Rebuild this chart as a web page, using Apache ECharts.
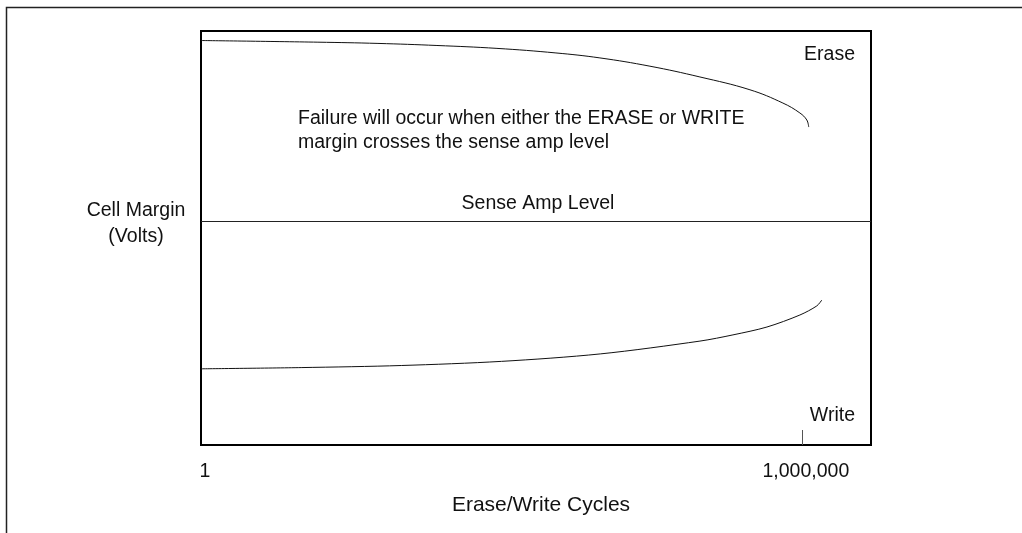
<!DOCTYPE html>
<html>
<head>
<meta charset="utf-8">
<script src="https://cdn.jsdelivr.net/npm/echarts@6/dist/echarts.min.js"></script>
<style>
  html, body { margin: 0; padding: 0; background: #ffffff; }
  #chart { width: 1022px; height: 533px; }
</style>
</head>
<body>
<div id="chart"></div>
<script>
// erase margin curve (cycles, relative margin)
const eraseCycles = [1, 14.7, 58.5, 227, 902, 3500, 9620, 30400, 95900, 303000, 646000, 955000, 1120000, 1170000];
const eraseMargin = [97.7, 97.3, 97.0, 96.5, 95.8, 94.7, 93.5, 91.5, 88.9, 85.8, 82.6, 80.2, 78.5, 76.8];

// write margin curve
const writeCycles = [1, 10, 100, 1000, 9700, 96000, 205000, 448000, 955000, 1410000, 1580000];
const writeMargin = [18.4, 18.7, 19.2, 20.2, 22.0, 25.1, 26.6, 28.5, 31.4, 33.6, 35.0];

const senseAmpLevel = 54;
const xLabelValues = [1, 1000000];
const xTickValues = [1000000];

const FONT = "'Liberation Sans', Arial, sans-serif";
const INK = "#111111";
const TEXT_SIZE = 19.5;

const chart = echarts.init(document.getElementById("chart"), null, { renderer: "canvas" });

const toPairs = (xs, ys) => xs.map((x, i) => [x, ys[i]]);

chart.setOption({
  animation: false,
  backgroundColor: "#ffffff",
  textStyle: { fontFamily: FONT },
  grid: {
    left: 201,
    right: 151,
    top: 31,
    bottom: 88,
    show: true,
    borderColor: "#000000",
    borderWidth: 2,
    containLabel: false,
  },
  xAxis: {
    type: "log",
    logBase: 10,
    min: 1,
    max: 4900000,
    name: "Erase/Write Cycles",
    nameLocation: "middle",
    nameGap: 50,
    nameTextStyle: { color: INK, fontSize: 21, fontFamily: FONT, padding: [0, 0, 0, 10] },
    axisLine: { show: false },
    axisTick: {
      show: true,
      inside: true,
      length: 15,
      customValues: xTickValues,
      lineStyle: { color: "#555555", width: 1 },
    },
    axisLabel: {
      show: true,
      customValues: xLabelValues,
      margin: 17,
      padding: [0, 0, 0, 8],
      color: INK,
      fontSize: TEXT_SIZE,
      fontFamily: FONT,
      formatter: (v) => Math.round(v).toLocaleString("en-US"),
    },
    splitLine: { show: false },
    minorTick: { show: false },
  },
  yAxis: {
    type: "value",
    min: 0,
    max: 100,
    axisLine: { show: false },
    axisTick: { show: false },
    axisLabel: { show: false },
    splitLine: { show: false },
  },
  series: [
    {
      name: "Erase",
      type: "line",
      data: toPairs(eraseCycles, eraseMargin),
      symbol: "none",
      smooth: 0.4,
      lineStyle: { color: INK, width: 1 },
      markLine: {
        silent: true,
        symbol: "none",
        data: [{ yAxis: senseAmpLevel }],
        lineStyle: { color: "#222222", width: 1.2, type: "solid" },
        label: {
          show: true,
          position: "middle",
          distance: 8,
          formatter: "Sense Amp Level",
          color: INK,
          fontSize: TEXT_SIZE,
          fontFamily: FONT,
          padding: [0, 0, 0, 4],
        },
      },
    },
    {
      name: "Write",
      type: "line",
      data: toPairs(writeCycles, writeMargin),
      symbol: "none",
      smooth: 0.3,
      lineStyle: { color: INK, width: 1 },
    },
  ],
  graphic: [
    {
      type: "rect",
      silent: true,
      shape: { x: 6.5, y: 7.5, width: 1200, height: 700 },
      style: { fill: null, stroke: "#222222", lineWidth: 1.5 },
      z: -1,
    },
    {
      type: "text",
      left: 298,
      top: 107,
      style: {
        text: "Failure will occur when either the ERASE or WRITE\nmargin crosses the sense amp level",
        font: TEXT_SIZE + "px " + FONT,
        fill: INK,
        lineHeight: 24,
      },
    },
    {
      type: "text",
      right: 1022 - 855,
      top: 45,
      style: { text: "Erase", font: TEXT_SIZE + "px " + FONT, fill: INK },
    },
    {
      type: "text",
      right: 1022 - 855,
      top: 406,
      style: { text: "Write", font: TEXT_SIZE + "px " + FONT, fill: INK },
    },
    {
      type: "text",
      x: 136,
      y: 224,
      style: {
        text: "Cell Margin\n(Volts)",
        font: TEXT_SIZE + "px " + FONT,
        fill: INK,
        align: "center",
        verticalAlign: "middle",
        lineHeight: 26,
      },
    },
  ],
});
</script>
</body>
</html>
